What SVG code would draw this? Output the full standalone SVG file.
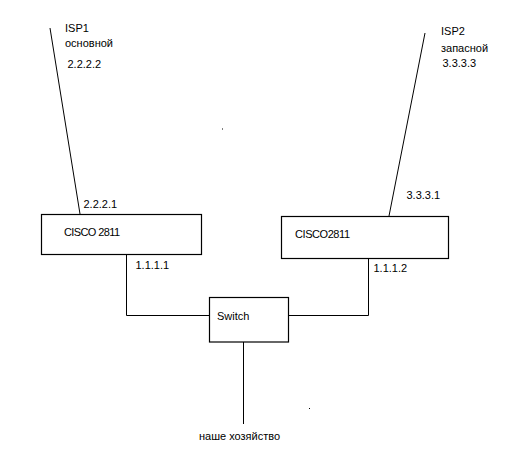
<svg xmlns="http://www.w3.org/2000/svg" width="517" height="449" viewBox="0 0 517 449">
<style>
text{font-family:"Liberation Sans",Arial,sans-serif;font-size:11px;fill:#000}
.ln{stroke:#000;stroke-width:1;fill:none}
.bx{stroke:#000;stroke-width:1.2;fill:#fff}
</style>
<rect width="517" height="449" fill="#fff"/>
<g id="connectors">
<line class="ln" x1="50" y1="28" x2="80" y2="214"/>
<line class="ln" x1="425" y1="33" x2="389" y2="216"/>
<polyline class="ln" points="126.5,254 126.5,315.5 216,315.5"/>
<polyline class="ln" points="282,315.5 368.5,315.5 368.5,258"/>
<line class="ln" x1="243.5" y1="332" x2="243.5" y2="424"/>
</g>
<g id="isp1">
<text x="65" y="32">ISP1</text>
<text x="65" y="47">основной</text>
<text x="67.5" y="67.5">2.2.2.2</text>
</g>
<g id="isp2">
<text x="441" y="35">ISP2</text>
<text x="441" y="52">запасной</text>
<text x="442.5" y="67">3.3.3.3</text>
</g>
<g id="cisco1">
<rect class="bx" x="41.5" y="214.5" width="160" height="40"/>
<text x="64" y="236" textLength="56">CISCO 2811</text>
<text x="83.5" y="208">2.2.2.1</text>
<text x="135.5" y="269">1.1.1.1</text>
</g>
<g id="cisco2">
<rect class="bx" x="281.5" y="216.5" width="167" height="42"/>
<text x="295" y="238" textLength="55">CISCO2811</text>
<text x="406.5" y="199">3.3.3.1</text>
<text x="373.5" y="272">1.1.1.2</text>
</g>
<g id="switch">
<rect class="bx" x="209.5" y="297.5" width="79" height="44.5"/>
<text x="217" y="319.5">Switch</text>
</g>
<g id="home">
<text x="199" y="440">наше хозяйство</text>
</g>
<rect x="222" y="128.5" width="1" height="1" fill="#000"/>
<rect x="309" y="408" width="1" height="1" fill="#000"/>
</svg>
